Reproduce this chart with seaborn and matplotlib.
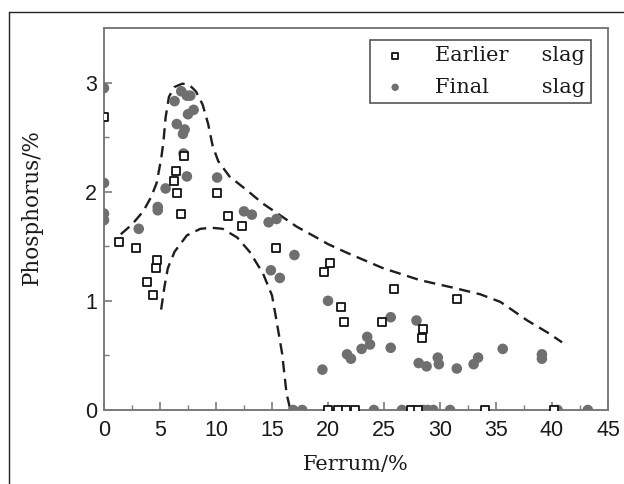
import numpy as np
import pandas as pd
import seaborn as sns
import matplotlib
matplotlib.use("Agg")
import matplotlib.pyplot as plt
from matplotlib.lines import Line2D

# ---- data ----
earlier_x = [0, 1.35, 2.9, 3.85, 4.4, 4.6, 4.7, 6.25, 6.4, 6.5, 6.9, 7.1, 10.1, 11.1,
             12.3, 15.4, 19.6, 20.2, 21.2, 21.4, 24.8, 25.9, 28.4, 28.5, 31.5,
             20.0, 20.9, 21.6, 22.4, 27.4, 28.0, 34.0, 40.2]
earlier_y = [2.68, 1.54, 1.48, 1.17, 1.05, 1.30, 1.37, 2.10, 2.19, 1.99, 1.80, 2.33, 1.99, 1.78,
             1.69, 1.48, 1.26, 1.35, 0.94, 0.81, 0.81, 1.11, 0.66, 0.74, 1.02,
             0, 0, 0, 0, 0, 0, 0, 0]

final_x = [0, 0, 0, 0, 3.1, 4.8, 4.8, 5.5, 6.3, 6.5, 6.9, 7.05, 7.1, 7.2, 7.4, 7.4, 7.5,
           7.7, 8.0, 10.1, 12.5, 13.2, 14.7, 15.4, 14.9, 15.7, 17.0, 19.5, 20.0, 21.7,
           22.05, 23.0, 23.5, 23.75, 25.6, 25.6, 27.9, 28.1, 28.8, 29.8, 29.9, 31.5,
           33.0, 33.4, 35.6, 39.1, 39.1,
           16.9, 17.7, 24.1, 26.6, 28.5, 28.9, 29.4, 30.9, 40.5, 43.2]
final_y = [2.95, 2.08, 1.80, 1.74, 1.66, 1.86, 1.83, 2.03, 2.83, 2.62, 2.92, 2.53, 2.35, 2.57,
           2.88, 2.14, 2.71, 2.88, 2.75, 2.13, 1.82, 1.79, 1.72, 1.75, 1.28, 1.21, 1.42,
           0.37, 1.00, 0.51, 0.47, 0.56, 0.67, 0.60, 0.85, 0.57, 0.82, 0.43, 0.40, 0.48,
           0.42, 0.38, 0.42, 0.48, 0.56, 0.51, 0.47,
           0, 0, 0, 0, 0, 0, 0, 0, 0, 0]

upper_x = [1.5, 2.5, 3.5, 4.2, 4.7, 5.1, 5.3, 5.5, 5.8, 6.3, 7.0, 7.6, 8.2, 8.8, 9.3, 9.7,
           10.2, 11.2, 12.8, 14.2, 15.5, 17.2, 18.8, 20.0, 21.7, 24.9, 28.2, 31.2, 33.6,
           35.4, 37.8, 39.6, 40.9]
upper_y = [1.61, 1.70, 1.82, 1.95, 2.08, 2.30, 2.45, 2.68, 2.87, 2.96, 2.99, 2.98, 2.92,
           2.80, 2.62, 2.42, 2.28, 2.14, 2.01, 1.89, 1.80, 1.68, 1.59, 1.52, 1.44, 1.30,
           1.19, 1.12, 1.06, 0.99, 0.82, 0.71, 0.62]

lower_x = [5.1, 5.4, 5.7, 6.3, 7.4, 8.6, 9.6, 10.6, 11.9, 13.0, 14.2, 15.0, 15.4, 15.9,
           16.3, 16.6]
lower_y = [0.92, 1.13, 1.30, 1.45, 1.60, 1.66, 1.67, 1.66, 1.58, 1.45, 1.25, 1.05, 0.82,
           0.52, 0.15, 0.02]

x_ticks = [0, 5, 10, 15, 20, 25, 30, 35, 40, 45]
y_ticks = [0, 1, 2, 3]
series_labels = ["Earlier     slag", "Final        slag"]

# ---- style ----
sns.set_style("ticks")
plt.rcParams["font.family"] = ["Liberation Sans", "DejaVu Sans"]
serif = ["DejaVu Serif"]

fig = plt.figure(figsize=(6.24, 4.84), dpi=100)
ax = fig.add_axes([104 / 624, 74 / 484, 504 / 624, 382 / 484])

df_e = pd.DataFrame({"x": earlier_x, "y": earlier_y})
df_f = pd.DataFrame({"x": final_x, "y": final_y})
df_u = pd.DataFrame({"x": upper_x, "y": upper_y})
df_l = pd.DataFrame({"x": lower_x, "y": lower_y})

dash = dict(color="#1e1e1e", linewidth=1.7, dashes=(4.8, 2.8), sort=False, estimator=None)
sns.lineplot(data=df_u, x="x", y="y", ax=ax, **dash)
sns.lineplot(data=df_l, x="x", y="y", ax=ax, **dash)

sns.scatterplot(data=df_e, x="x", y="y", ax=ax, marker="s", s=36, facecolor="white",
                edgecolor="#111111", linewidth=1.3, label=series_labels[0], zorder=4)
sns.scatterplot(data=df_f, x="x", y="y", ax=ax, marker="o", s=58, color="#6f6f6f",
                edgecolor="none", linewidth=0, label=series_labels[1], zorder=3)
for coll in ax.collections:
    coll.set_clip_on(True)

ax.set_xlim(0, 45)
ax.set_ylim(0, 3.5)
ax.set_xticks(x_ticks)
ax.set_yticks(y_ticks)
ax.set_xticks(np.arange(2.5, 45, 5.0), minor=True)
ax.set_yticks([0.5, 1.5, 2.5], minor=True)

spine_c = "#7a7a7a"
for sp in ax.spines.values():
    sp.set_color(spine_c)
    sp.set_linewidth(1.4)
ax.tick_params(axis="both", which="major", direction="in", length=6, width=1.2,
               color=spine_c, labelsize=15.5, labelcolor="#1a1a1a")
ax.tick_params(axis="both", which="minor", direction="in", length=3.5, width=1.0,
               color=spine_c)
ax.tick_params(axis="x", pad=7)
ax.tick_params(axis="y", pad=5)

ax.set_xlabel("Ferrum/%", family=serif, fontsize=15, color="#1a1a1a", labelpad=10)
ax.set_ylabel("Phosphorus/%", family=serif, fontsize=15.5, color="#1a1a1a")
ax.yaxis.set_label_coords(-0.122, 0.53)

leg = ax.legend(loc="upper right", bbox_to_anchor=(591 / 624, 444 / 484),
                bbox_transform=fig.transFigure, borderaxespad=0, frameon=True,
                fancybox=False, framealpha=1, edgecolor="#555555",
                prop={"family": serif, "size": 15}, labelspacing=0.6,
                handletextpad=1.0, borderpad=0.3, markerscale=0.7,
                handlelength=1.8)
leg.get_frame().set_linewidth(1.2)
for t in leg.get_texts():
    t.set_color("#1a1a1a")

# outer frame of the figure (top and left edges)
fig.add_artist(Line2D([9 / 624, 1.0], [1 - 12 / 484, 1 - 12 / 484],
                      transform=fig.transFigure, color="#222222", linewidth=1.0))
fig.add_artist(Line2D([9 / 624, 9 / 624], [0.0, 1 - 12 / 484],
                      transform=fig.transFigure, color="#222222", linewidth=1.0))

fig.savefig("out.png", dpi=100, facecolor="white")
